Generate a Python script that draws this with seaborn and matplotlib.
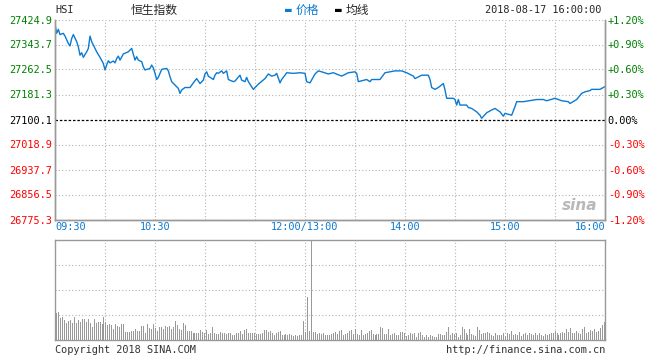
import numpy as np
import pandas as pd
import matplotlib
matplotlib.use('Agg')
import matplotlib.pyplot as plt
import seaborn as sns

# Data (minutes after 09:30, lunch break removed)
prev_close = 27100.1
minutes = [0, 1, 2, 3, 5, 6, 8, 9, 10, 11, 13, 14, 15, 16, 17, 19, 20, 21, 22, 23,
           25, 27, 29, 30, 31, 32, 33, 35, 36, 37, 38, 39, 41, 44, 46, 48, 49, 50, 52, 53,
           54, 57, 58, 59, 60, 61, 62, 64, 67, 68, 69, 70, 72, 74, 75, 76, 78, 81, 83, 85,
           87, 89, 90, 91, 92, 95, 96, 97, 98, 100, 101, 103, 104, 107, 108, 111, 112, 114, 115, 116,
           119, 122, 126, 128, 130, 132, 133, 135, 136, 138, 139, 143, 147, 150, 151, 153, 156, 158, 160, 164,
           167, 172, 176, 180, 181, 182, 187, 189, 190, 195, 198, 204, 208, 211, 215, 216, 220, 224, 225, 226,
           228, 230, 233, 234, 235, 239, 240, 241, 242, 243, 247, 248, 250, 253, 255, 256, 259, 262, 264, 267,
           269, 270, 274, 276, 277, 281, 287, 289, 293, 295, 300, 304, 308, 309, 313, 316, 318, 321, 322, 327,
           330]
prices = [27410, 27380, 27393, 27376, 27380, 27371, 27347, 27339, 27363, 27376, 27353, 27336, 27309, 27317, 27302, 27320, 27331, 27371, 27353, 27342,
          27320, 27302, 27282, 27261, 27277, 27291, 27284, 27290, 27284, 27298, 27306, 27293, 27313, 27320, 27331, 27293, 27304, 27293, 27288, 27271,
          27261, 27266, 27277, 27268, 27250, 27230, 27237, 27263, 27266, 27258, 27239, 27223, 27212, 27201, 27185, 27196, 27204, 27204, 27219, 27233,
          27217, 27228, 27248, 27255, 27241, 27230, 27244, 27252, 27250, 27258, 27250, 27258, 27230, 27223, 27225, 27244, 27228, 27223, 27237, 27223,
          27198, 27215, 27233, 27248, 27241, 27244, 27250, 27219, 27230, 27244, 27252, 27250, 27252, 27250, 27223, 27219, 27248, 27258, 27255, 27248,
          27252, 27241, 27252, 27255, 27250, 27223, 27230, 27223, 27230, 27230, 27252, 27258, 27258, 27252, 27241, 27233, 27244, 27244, 27230, 27204,
          27198, 27204, 27217, 27196, 27169, 27169, 27165, 27147, 27165, 27147, 27147, 27139, 27136, 27125, 27114, 27104, 27122, 27131, 27136, 27125,
          27111, 27120, 27114, 27142, 27158, 27158, 27163, 27165, 27165, 27161, 27169, 27161, 27158, 27152, 27165, 27185, 27190, 27194, 27198, 27198,
          27207]

# Volume bars (relative height, panel top = 100)
volume = [27, 28, 22, 23, 20, 17, 19, 20, 17, 23, 17, 20, 18, 21, 21, 18, 21, 17, 13, 21,
          17, 18, 18, 16, 23, 18, 15, 16, 15, 11, 16, 14, 13, 16, 16, 8, 8, 8, 9, 9,
          11, 9, 9, 14, 14, 7, 16, 12, 11, 16, 12, 9, 13, 13, 11,
          14, 13, 14, 11, 13, 19, 15, 11, 10, 17, 15, 9, 9, 9, 7, 7, 7, 7, 10, 8,
          7, 10, 6, 7, 13, 7, 6, 6, 8, 7, 7, 6, 7, 7, 5, 5, 7, 7, 9, 6,
          10, 11, 7, 7, 7, 7, 6, 6, 6, 7, 10, 10, 8, 9, 7,
          5, 7, 8, 9, 5, 5, 6, 5, 6, 5, 4, 5, 4, 5, 5, 19, 8, 43, 9, 100,
          8, 8, 6, 7, 6, 7, 5, 5, 5, 6, 7, 8, 6, 9, 10, 5, 6, 7, 9, 10,
          6, 11, 6, 5, 10, 5, 6, 7, 9, 10, 6, 5, 6, 6, 13,
          12, 6, 6, 11, 5, 6, 7, 5, 5, 8, 8, 7, 4, 5, 7, 6, 7, 3, 7, 8,
          5, 3, 5, 3, 5, 4, 3, 3, 6, 6, 5, 5, 8, 13, 5, 7, 6, 7, 3, 5,
          13, 11, 7, 5, 11, 6, 5, 4, 13, 10, 6, 7, 7, 8, 7,
          5, 4, 7, 5, 5, 5, 7, 4, 7, 6, 9, 5, 6, 5, 8, 4, 6, 7, 5, 7,
          6, 5, 7, 5, 7, 5, 4, 6, 5, 6, 7, 7, 9, 7, 5, 7, 8, 7, 11, 8,
          12, 7, 7, 9, 7, 6, 11, 13, 7, 8, 10, 9, 11, 8, 9, 12, 15, 18]

tick_minutes = [0, 60, 150, 210, 270, 330]
tick_labels = ['09:30', '10:30', '12:00/13:00', '14:00', '15:00', '16:00']
pct_levels = [1.2, 0.9, 0.6, 0.3, 0.0, -0.3, -0.6, -0.9, -1.2]

sns.set_style('white')
plt.rcParams['font.family'] = ['DejaVu Sans Mono', 'Noto Sans CJK SC']

grid_c = '#b4b4b4'
frame_c = '#999999'
blue = '#0a7ad2'

fig = plt.figure(figsize=(6.6, 3.6), dpi=100)
ax = fig.add_axes([55 / 660, 140.5 / 360, 550 / 660, 200 / 360])
axv = fig.add_axes([55 / 660, 20 / 360, 550 / 660, 100 / 360])

# price line
df = pd.DataFrame({'minute': minutes, 'price': prices})
sns.lineplot(data=df, x='minute', y='price', ax=ax, color=blue, lw=1.0)

step = 81.2
levels = [prev_close + p / 0.3 * step for p in pct_levels]
ax.set_ylim(prev_close - 4 * step, prev_close + 4 * step)
ax.set_xlim(0, 330)
ax.set_xlabel('')
ax.set_ylabel('')

for lv in levels:
    if abs(lv - prev_close) < 1e-6:
        ax.axhline(lv, color='black', lw=0.9, ls=(0, (2, 1.5)), zorder=1)
    else:
        ax.axhline(lv, color=grid_c, lw=0.8, ls=(0, (1, 2)), zorder=0)
for m in range(30, 330, 30):
    ax.axvline(m, color=grid_c, lw=0.8, ls=(0, (1, 2)), zorder=0)

def level_color(p):
    return 'green' if p > 0 else ('red' if p < 0 else 'black')

ax.set_yticks(levels)
ax.set_yticklabels([f'{lv:.1f}' for lv in levels], fontsize=7.4)
for lab, p in zip(ax.get_yticklabels(), pct_levels):
    lab.set_color(level_color(p))

axr = ax.twinx()
axr.set_ylim(ax.get_ylim())
axr.set_yticks(levels)
axr.set_yticklabels([f'{p:+.2f}%' if p != 0 else '0.00%' for p in pct_levels], fontsize=7.4)
for lab, p in zip(axr.get_yticklabels(), pct_levels):
    lab.set_color(level_color(p))

ax.set_xticks(tick_minutes)
ax.set_xticklabels(tick_labels, fontsize=7.4, color=blue)
xl = ax.get_xticklabels()
xl[0].set_ha('left')
xl[-1].set_ha('right')
ax.tick_params(axis='both', length=0, pad=2)
axr.tick_params(axis='y', length=0, pad=2)

for a in (ax, axr):
    for side in ('left', 'right', 'bottom'):
        a.spines[side].set_color(frame_c)
        a.spines[side].set_linewidth(1.0)
    a.spines['top'].set_visible(False)

# volume panel: thin 1px gray bars
vol_pos = np.linspace(0.6, 329.4, len(volume))
axv.vlines(vol_pos, 0, volume, colors='#999999', lw=0.6, antialiased=False)
axv.set_xlim(0, 330)
axv.set_ylim(0, 100)
for h in (25, 50, 75):
    axv.axhline(h, color=grid_c, lw=0.8, ls=(0, (1, 2)), zorder=0)
for m in range(30, 330, 30):
    axv.axvline(m, color=grid_c, lw=0.8, ls=(0, (1, 2)), zorder=0)
axv.set_xticks([])
axv.set_yticks([])
for side in axv.spines:
    axv.spines[side].set_color(frame_c)
    axv.spines[side].set_linewidth(1.0)

# header and footer
def fy(y):
    return 1 - y / 360

fig.text(55 / 660, fy(10), 'HSI', fontsize=7.4, va='center', ha='left')
fig.text(154 / 660, fy(10), '恒生指数', fontsize=8.5, va='center', ha='center',
         family='Noto Sans CJK SC')
fig.text(285 / 660, fy(10), '▬', fontsize=8, va='center', ha='left', color=blue)
fig.text(296 / 660, fy(10), '价格', fontsize=8.5, va='center', ha='left',
         family='Noto Sans CJK SC', color=blue)
fig.text(335 / 660, fy(10), '▬', fontsize=8, va='center', ha='left', color='black')
fig.text(346 / 660, fy(10), '均线', fontsize=8.5, va='center', ha='left',
         family='Noto Sans CJK SC')
fig.text(601 / 660, fy(10), '2018-08-17 16:00:00', fontsize=7.4, va='center', ha='right')
fig.text(55 / 660, fy(350), 'Copyright 2018 SINA.COM', fontsize=7.4, va='center',
         ha='left', color='#333333')
fig.text(605 / 660, fy(350), 'http://finance.sina.com.cn', fontsize=7.4, va='center',
         ha='right', color='#333333')
fig.text(580 / 660, fy(206), 'sina', fontsize=11, va='center', ha='center',
         color='#b8b8b8', style='italic', fontweight='bold', family='DejaVu Sans')

fig.savefig('out.png', dpi=100)
